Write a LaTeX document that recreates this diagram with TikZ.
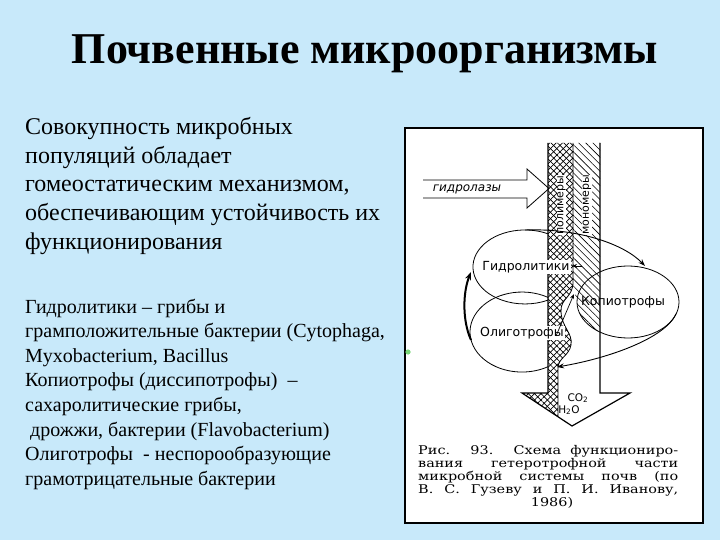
\documentclass[tikz,border=0pt]{standalone}
\usepackage{fontspec}
\setmainfont{Liberation Serif}
\newfontfamily\diagfont{DejaVu Sans}
\newfontfamily\capfont{DejaVu Serif}
\usetikzlibrary{patterns.meta,arrows.meta}
\definecolor{slidebg}{RGB}{200,233,250}
\definecolor{spotgreen}{RGB}{120,215,120}
\newcommand{\capln}[1]{\scalebox{1.2}[1]{\makebox[216.7pt][s]{#1}}}
\tikzset{
  bodyA/.style={anchor=base west, inner sep=0pt, font=\fontsize{24}{28}\selectfont},
  bodyB/.style={anchor=base west, inner sep=0pt, font=\fontsize{20}{24}\selectfont},
  capline/.style={anchor=base west, inner sep=0pt, font=\capfont\fontsize{12}{13}\selectfont},
  lbl/.style={inner sep=1pt, fill=white, font=\diagfont\fontsize{12.5}{14}\selectfont},
  striplbl/.style={inner sep=0.4pt, fill=white, rotate=90, font=\diagfont\fontsize{11}{12}\selectfont},
  thinline/.style={line width=0.8pt},
  outline/.style={line width=1.2pt},
  arr/.style={line width=0.9pt, -{Stealth[length=7pt,width=5pt]}},
  thickarr/.style={line width=2pt, -{Stealth[length=8pt,width=6pt]}},
  crossA/.style={pattern={Lines[angle=45,distance=4.5pt,line width=0.7pt]}},
  crossB/.style={pattern={Lines[angle=-45,distance=4.5pt,line width=0.7pt]}},
  monohatch/.style={pattern={Lines[angle=-45,distance=5pt,line width=0.6pt]}},
}
\begin{document}
\begin{tikzpicture}[x=1pt,y=-1pt]
% background
\fill[slidebg] (0,0) rectangle (720,540);
\useasboundingbox (0,0) rectangle (720,540);

% title
\node[anchor=base, inner sep=0pt, font=\fontsize{44}{50}\bfseries\selectfont] (title) at (365,64) {Почвенные микроорганизмы};

% paragraph 1
\node[bodyA] (p1a) at (25,135) {Совокупность микробных};
\node[bodyA] (p1b) at (25,163.5) {популяций обладает};
\node[bodyA] (p1c) at (25,192) {гомеостатическим механизмом,};
\node[bodyA] (p1d) at (25,220.5) {обеспечивающим устойчивость их};
\node[bodyA] (p1e) at (25,249) {функционирования};

% paragraph 2
\node[bodyB] (p2a) at (25,313) {Гидролитики – грибы и};
\node[bodyB] (p2b) at (25,337.6) {грамположительные бактерии (Cytophaga,};
\node[bodyB] (p2c) at (25,362.2) {Myxobacterium, Bacillus};
\node[bodyB] (p2d) at (25,386.8) {Копиотрофы (диссипотрофы) \ –};
\node[bodyB] (p2e) at (25,411.4) {сахаролитические грибы,};
\node[bodyB] (p2f) at (30,436) {дрожжи, бактерии (Flavobacterium)};
\node[bodyB] (p2g) at (25,460.6) {Олиготрофы \ - неспорообразующие};
\node[bodyB] (p2h) at (25,485.2) {грамотрицательные бактерии};

% figure box
\draw[fill=white, line width=1.3pt] (405,128) rectangle (703,523);
\fill[spotgreen] (408,352) circle (2.6);

% monomer hatch
\fill[monohatch] (573,143) -- (600,143) -- (600,332.3)
  arc[start angle=122.7, end angle=180, x radius=50, y radius=36] -- (573,285) -- cycle;
% polymer crosshatch
\def\polypath{(548,143) -- (573,143) -- (573,282) .. controls (573,298) and (560,298) .. (561,312) .. controls (562,328) and (573,333) .. (571,345) .. controls (569,356) and (558,358) .. (558,368) -- (558,416.8) -- (522,393) -- (548,393) -- cycle}
\fill[crossA] \polypath;
\fill[crossB] \polypath;
\draw[thinline] (573,143) -- (573,282) .. controls (573,298) and (560,298) .. (561,312) .. controls (562,328) and (573,333) .. (571,345) .. controls (569,356) and (558,358) .. (558,368) -- (558,416.8);

% big arrow outline
\draw[outline, line join=miter] (548,143) -- (548,393) -- (522,393) -- (572,426) -- (630,393) -- (600,393) -- (600,143);

% hydrolase block arrow
\draw[thinline, line join=miter] (423,180) -- (527,180) -- (527,169) -- (549,188.5) -- (527,208) -- (527,198) -- (423,198);
\node[inner sep=0pt, font=\diagfont\itshape\fontsize{12}{13}\selectfont] (hydrolase) at (467,189) {гидролазы};

% strip labels
\node[striplbl] (poly) at (561.5,205) {полимеры};
\node[striplbl] (mono) at (587,205) {мономеры};

% ellipses
\draw[thinline] (548,233.8) arc[start angle=-63.7, end angle=-296.3, x radius=52, y radius=37];
\draw[thinline] (548,297.4) arc[start angle=-60, end angle=-300, x radius=52, y radius=40];
\draw[thinline] (628,302) ellipse [x radius=51, y radius=36];

% labels
\node[lbl] (hyd) at (526,267) {Гидролитики};
\node[lbl, fill=none] (copio) at (623,302) {Копиотрофы};
\node[lbl] (oligo) at (522,333) {Олиготрофы};

% CO2 H2O
\node[inner sep=0pt, font=\diagfont\fontsize{10.5}{12}\selectfont] (co2) at (578,398) {CO\textsubscript{2}};
\node[inner sep=0pt, font=\diagfont\fontsize{10.5}{12}\selectfont] (h2o) at (569,410) {H\textsubscript{2}O};

% connectors
\coordinate (hydtop) at (525,230);
\coordinate (copin) at (645,266);
\coordinate (copout) at (676,314);
\coordinate (oligin) at (557,367);
\coordinate (oligleft) at (471,340);
\coordinate (hydleft) at (471,272);
\coordinate (smallfrom) at (556,336);
\coordinate (smallto) at (574,294);
\coordinate (hydarrfrom) at (582,266);
\coordinate (hydarrto) at (572,266);

\draw[arr] (hydtop) .. controls (580,228) and (625,245) .. (copin);
\draw[arr] (copout) .. controls (665,338) and (610,358) .. (oligin);
\draw[thickarr] (oligleft) .. controls (462,320) and (463,292) .. (hydleft);
\draw[line width=0.7pt, -{Stealth[length=5pt,width=4pt]}] (smallfrom) -- (smallto);
\draw[line width=0.7pt, -{Stealth[length=5pt,width=4pt]}] (hydarrfrom) -- (hydarrto);

% caption
\node[capline] (c1) at (418,454) {\capln{Рис. 93. Схема функциониро-}};
\node[capline] (c2) at (418,467) {\capln{вания гетеротрофной части}};
\node[capline] (c3) at (418,480) {\capln{микробной системы почв (по}};
\node[capline] (c4) at (418,493) {\capln{В. С. Гузеву и П. И. Иванову,}};
\node[anchor=base, inner sep=0pt, font=\capfont\fontsize{12}{13}\selectfont, xscale=1.2] (c5) at (552,506) {1986)};
\end{tikzpicture}
\end{document}
